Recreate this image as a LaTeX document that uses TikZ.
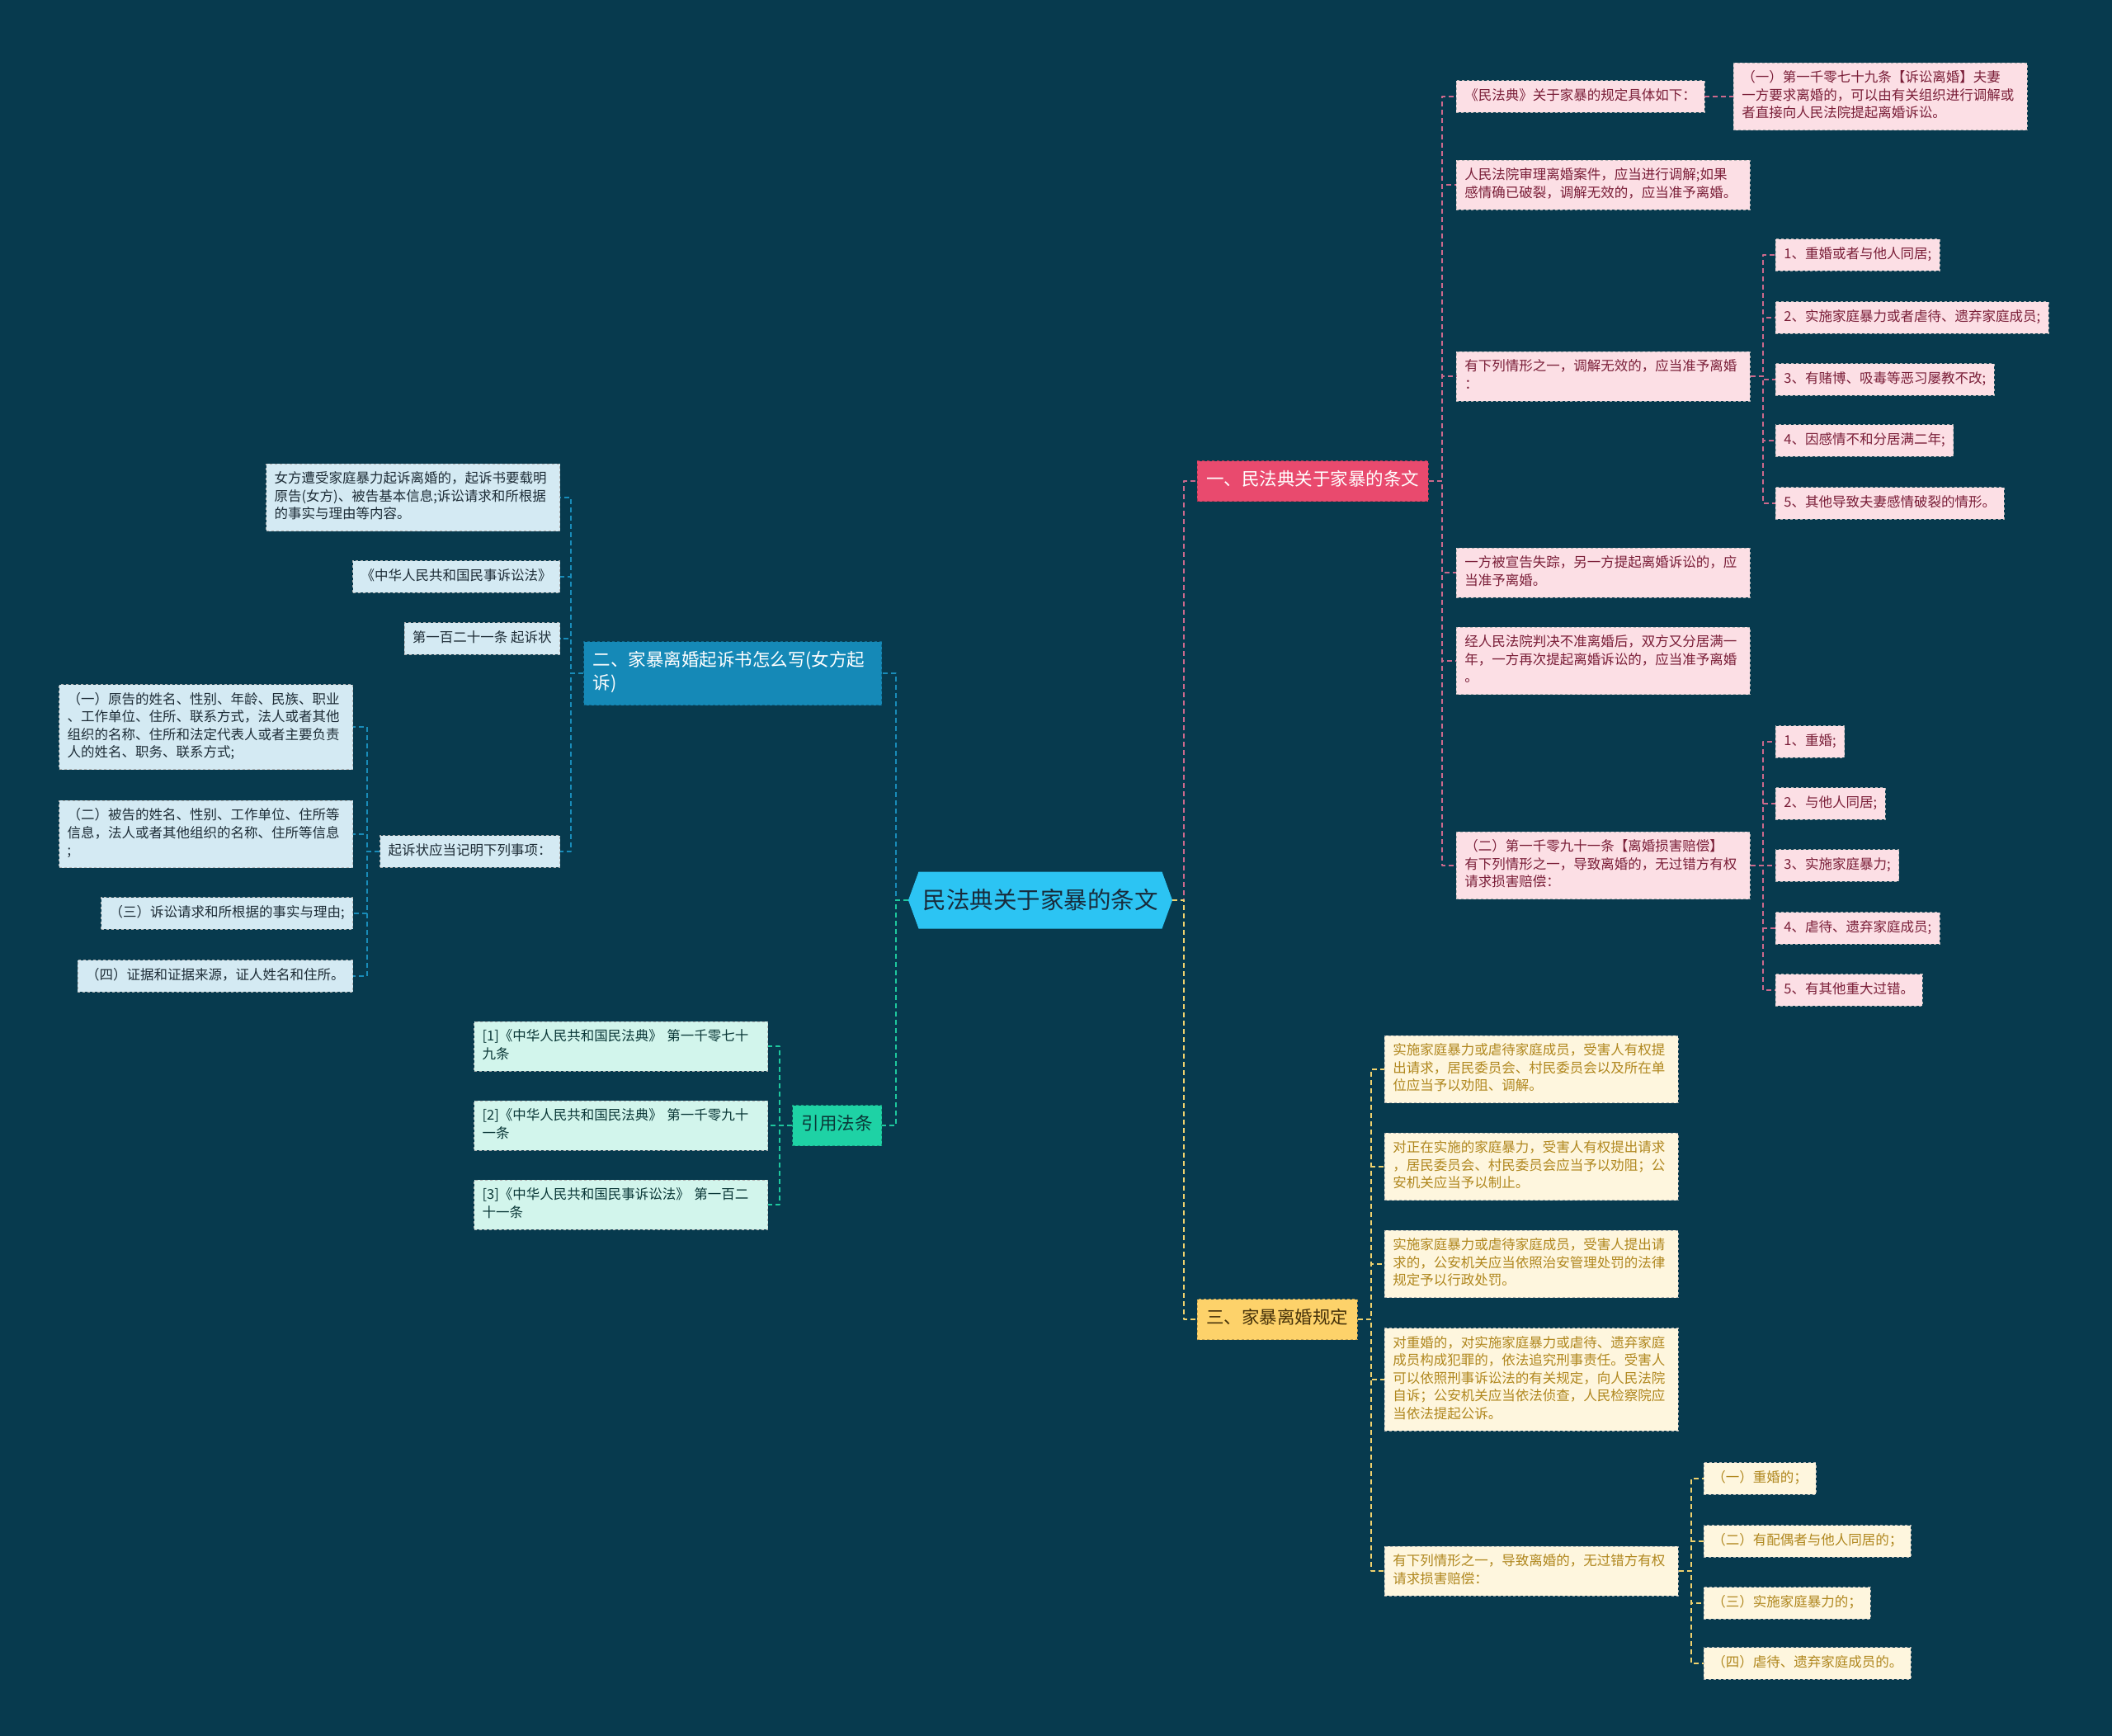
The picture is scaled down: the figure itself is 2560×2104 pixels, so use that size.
\documentclass[tikz,border=0pt]{standalone}
\usepackage{fontspec}
\setmainfont{Noto Sans CJK SC}
\usepackage{tikz}
\usetikzlibrary{shapes.symbols}

\definecolor{bgc}{RGB}{7,58,78}
\definecolor{hubc}{RGB}{44,196,243}
\definecolor{hubt}{RGB}{24,44,60}
\definecolor{redc}{RGB}{233,74,110}
\definecolor{redfill}{RGB}{252,223,229}
\definecolor{redtext}{RGB}{122,30,56}
\definecolor{redline}{RGB}{205,105,140}
\definecolor{bluec}{RGB}{21,137,183}
\definecolor{bluefill}{RGB}{212,234,243}
\definecolor{bluetext}{RGB}{30,45,55}
\definecolor{blueline}{RGB}{25,140,185}
\definecolor{yelc}{RGB}{253,210,106}
\definecolor{yeltext}{RGB}{70,50,10}
\definecolor{yelfill}{RGB}{254,246,222}
\definecolor{yelleaf}{RGB}{176,135,30}
\definecolor{yelline}{RGB}{240,210,110}
\definecolor{grnc}{RGB}{30,210,165}
\definecolor{grntext}{RGB}{10,55,55}
\definecolor{grnfill}{RGB}{210,245,236}
\definecolor{grnline}{RGB}{30,200,158}

\begin{document}
\begin{tikzpicture}[x=1pt, y=-1pt, line join=round,
  hub/.style={shape=signal, signal to=west and east, signal pointer angle=140,
    fill=hubc, text=hubt, font=\fontsize{28.5}{34}\selectfont, inner xsep=5pt, minimum height=69pt},
  topic/.style={dashed, line width=0.8pt, inner xsep=11pt, inner ysep=10.5pt,
    font=\fontsize{21.5}{28}\selectfont, execute at begin node=\strut, execute at end node=\strut},
  leaf/.style={dashed, line width=0.8pt, draw=gray!60, inner xsep=10pt, inner ysep=8.5pt,
    font=\fontsize{16.5}{21.5}\selectfont, execute at begin node=\strut, execute at end node=\strut},
  wide/.style={text width=336pt, align=left},
  redleaf/.style={leaf, fill=redfill, text=redtext},
  blueleaf/.style={leaf, fill=bluefill, text=bluetext},
  yelleaf/.style={leaf, fill=yelfill, text=yelleaf},
  grnleaf/.style={leaf, fill=grnfill, text=grntext},
  redlink/.style={draw=redline, line width=1.6pt, dash pattern=on 6pt off 4pt},
  bluelink/.style={draw=blueline, line width=1.6pt, dash pattern=on 6pt off 4pt},
  yellink/.style={draw=yelline, line width=1.6pt, dash pattern=on 6pt off 4pt},
  grnlink/.style={draw=grnline, line width=1.6pt, dash pattern=on 6pt off 4pt}]

  % background and page size
  \fill[bgc] (0,0) rectangle (2560,2104);
  \useasboundingbox (0,0) rectangle (2560,2104);

  \begin{scope}[yshift=-3pt]
  % central topic
  \node[hub] (root) at (1261,1088) {民法典关于家暴的条文};

  % main branches
  \node[topic, fill=redc, draw=redc!75!black, text=white, anchor=west] (law) at (1451,580) {一、民法典关于家暴的条文};
  \node[topic, fill=yelc, draw=yelc!75!black, text=yeltext, anchor=west] (rule) at (1451,1596) {三、家暴离婚规定};
  \node[topic, fill=bluec, draw=bluec!75!black, text=white, text width=339pt, align=left, anchor=east] (suit) at (1069,813) {二、家暴离婚起诉书怎么写(女方起\\诉)};
  \node[topic, fill=grnc, draw=grnc!75!black, text=grntext, anchor=east] (cite) at (1069,1361) {引用法条};

  % branch one: articles of the civil code
  \node[redleaf, anchor=west] (lawA) at (1765,114) {《民法典》关于家暴的规定具体如下：};
  \node[redleaf, wide, anchor=west] (lawAone) at (2101,114) {（一）第一千零七十九条【诉讼离婚】夫妻\\一方要求离婚的，可以由有关组织进行调解或\\者直接向人民法院提起离婚诉讼。};
  \node[redleaf, wide, anchor=west] (lawB) at (1765,221) {人民法院审理离婚案件，应当进行调解;如果\\感情确已破裂，调解无效的，应当准予离婚。};
  \node[redleaf, wide, anchor=west] (lawC) at (1765,453) {有下列情形之一，调解无效的，应当准予离婚\\：};
  \node[redleaf, anchor=west] (lawCa) at (2152,306) {1、重婚或者与他人同居;};
  \node[redleaf, anchor=west] (lawCb) at (2152,382) {2、实施家庭暴力或者虐待、遗弃家庭成员;};
  \node[redleaf, anchor=west] (lawCc) at (2152,457) {3、有赌博、吸毒等恶习屡教不改;};
  \node[redleaf, anchor=west] (lawCd) at (2152,531) {4、因感情不和分居满二年;};
  \node[redleaf, anchor=west] (lawCe) at (2152,607) {5、其他导致夫妻感情破裂的情形。};
  \node[redleaf, wide, anchor=west] (lawD) at (1765,691) {一方被宣告失踪，另一方提起离婚诉讼的，应\\当准予离婚。};
  \node[redleaf, wide, anchor=west] (lawE) at (1765,798) {经人民法院判决不准离婚后，双方又分居满一\\年，一方再次提起离婚诉讼的，应当准予离婚\\。};
  \node[redleaf, wide, anchor=west] (lawF) at (1765,1046) {（二）第一千零九十一条【离婚损害赔偿】\\有下列情形之一，导致离婚的，无过错方有权\\请求损害赔偿：};
  \node[redleaf, anchor=west] (lawFa) at (2152,896) {1、重婚;};
  \node[redleaf, anchor=west] (lawFb) at (2152,971) {2、与他人同居;};
  \node[redleaf, anchor=west] (lawFc) at (2152,1046) {3、实施家庭暴力;};
  \node[redleaf, anchor=west] (lawFd) at (2152,1122) {4、虐待、遗弃家庭成员;};
  \node[redleaf, anchor=west] (lawFe) at (2152,1197) {5、有其他重大过错。};

  % branch three: rules on domestic violence
  \node[yelleaf, wide, anchor=west] (ruleA) at (1678,1293) {实施家庭暴力或虐待家庭成员，受害人有权提\\出请求，居民委员会、村民委员会以及所在单\\位应当予以劝阻、调解。};
  \node[yelleaf, wide, anchor=west] (ruleB) at (1678,1411) {对正在实施的家庭暴力，受害人有权提出请求\\，居民委员会、村民委员会应当予以劝阻；公\\安机关应当予以制止。};
  \node[yelleaf, wide, anchor=west] (ruleC) at (1678,1529) {实施家庭暴力或虐待家庭成员，受害人提出请\\求的，公安机关应当依照治安管理处罚的法律\\规定予以行政处罚。};
  \node[yelleaf, wide, anchor=west] (ruleD) at (1678,1669) {对重婚的，对实施家庭暴力或虐待、遗弃家庭\\成员构成犯罪的，依法追究刑事责任。受害人\\可以依照刑事诉讼法的有关规定，向人民法院\\自诉；公安机关应当依法侦查，人民检察院应\\当依法提起公诉。};
  \node[yelleaf, wide, anchor=west] (ruleE) at (1678,1901) {有下列情形之一，导致离婚的，无过错方有权\\请求损害赔偿：};
  \node[yelleaf, anchor=west] (ruleEa) at (2065,1789) {（一）重婚的；};
  \node[yelleaf, anchor=west] (ruleEb) at (2065,1865) {（二）有配偶者与他人同居的；};
  \node[yelleaf, anchor=west] (ruleEc) at (2065,1940) {（三）实施家庭暴力的；};
  \node[yelleaf, anchor=west] (ruleEd) at (2065,2013) {（四）虐待、遗弃家庭成员的。};

  % branch two: writing the complaint
  \node[blueleaf, wide, anchor=east] (suitA) at (679,600) {女方遭受家庭暴力起诉离婚的，起诉书要载明\\原告(女方)、被告基本信息;诉讼请求和所根据\\的事实与理由等内容。};
  \node[blueleaf, anchor=east] (suitB) at (679,696) {《中华人民共和国民事诉讼法》};
  \node[blueleaf, anchor=east] (suitC) at (679,771) {第一百二十一条 起诉状};
  \node[blueleaf, anchor=east] (suitD) at (679,1029) {起诉状应当记明下列事项：};
  \node[blueleaf, wide, anchor=east] (suitDa) at (428,878) {（一）原告的姓名、性别、年龄、民族、职业\\、工作单位、住所、联系方式，法人或者其他\\组织的名称、住所和法定代表人或者主要负责\\人的姓名、职务、联系方式;};
  \node[blueleaf, wide, anchor=east] (suitDb) at (428,1008) {（二）被告的姓名、性别、工作单位、住所等\\信息，法人或者其他组织的名称、住所等信息\\;};
  \node[blueleaf, anchor=east] (suitDc) at (428,1104) {（三）诉讼请求和所根据的事实与理由;};
  \node[blueleaf, anchor=east] (suitDd) at (428,1180) {（四）证据和证据来源，证人姓名和住所。};

  % branch four: cited articles
  \node[grnleaf, wide, anchor=east] (citeA) at (931,1265) {[1]《中华人民共和国民法典》 第一千零七十\\九条};
  \node[grnleaf, wide, anchor=east] (citeB) at (931,1361) {[2]《中华人民共和国民法典》 第一千零九十\\一条};
  \node[grnleaf, wide, anchor=east] (citeC) at (931,1457) {[3]《中华人民共和国民事诉讼法》 第一百二\\十一条};

  % connectors from the centre
  \draw[redlink] (root.east) -- ++(14,0) |- (law.west);
  \draw[yellink] (root.east) -- ++(14,0) |- (rule.west);
  \draw[bluelink] (root.west) -- ++(-15,0) |- (suit.east);
  \draw[grnlink] (root.west) -- ++(-15,0) |- (cite.east);

  % connectors of branch one
  \draw[redlink] (law.east) -- ++(16,0) |- (lawA.west);
  \draw[redlink] (law.east) -- ++(16,0) |- (lawB.west);
  \draw[redlink] (law.east) -- ++(16,0) |- (lawC.west);
  \draw[redlink] (law.east) -- ++(16,0) |- (lawD.west);
  \draw[redlink] (law.east) -- ++(16,0) |- (lawE.west);
  \draw[redlink] (law.east) -- ++(16,0) |- (lawF.west);
  \draw[redlink] (lawA.east) -- (lawAone.west |- lawA.east);
  \draw[redlink] (lawC.east) -- ++(15,0) |- (lawCa.west);
  \draw[redlink] (lawC.east) -- ++(15,0) |- (lawCb.west);
  \draw[redlink] (lawC.east) -- ++(15,0) |- (lawCc.west);
  \draw[redlink] (lawC.east) -- ++(15,0) |- (lawCd.west);
  \draw[redlink] (lawC.east) -- ++(15,0) |- (lawCe.west);
  \draw[redlink] (lawF.east) -- ++(15,0) |- (lawFa.west);
  \draw[redlink] (lawF.east) -- ++(15,0) |- (lawFb.west);
  \draw[redlink] (lawF.east) -- ++(15,0) |- (lawFc.west);
  \draw[redlink] (lawF.east) -- ++(15,0) |- (lawFd.west);
  \draw[redlink] (lawF.east) -- ++(15,0) |- (lawFe.west);

  % connectors of branch three
  \draw[yellink] (rule.east) -- ++(16,0) |- (ruleA.west);
  \draw[yellink] (rule.east) -- ++(16,0) |- (ruleB.west);
  \draw[yellink] (rule.east) -- ++(16,0) |- (ruleC.west);
  \draw[yellink] (rule.east) -- ++(16,0) |- (ruleD.west);
  \draw[yellink] (rule.east) -- ++(16,0) |- (ruleE.west);
  \draw[yellink] (ruleE.east) -- ++(15,0) |- (ruleEa.west);
  \draw[yellink] (ruleE.east) -- ++(15,0) |- (ruleEb.west);
  \draw[yellink] (ruleE.east) -- ++(15,0) |- (ruleEc.west);
  \draw[yellink] (ruleE.east) -- ++(15,0) |- (ruleEd.west);

  % connectors of branch two
  \draw[bluelink] (suit.west) -- ++(-15,0) |- (suitA.east);
  \draw[bluelink] (suit.west) -- ++(-15,0) |- (suitB.east);
  \draw[bluelink] (suit.west) -- ++(-15,0) |- (suitC.east);
  \draw[bluelink] (suit.west) -- ++(-15,0) |- (suitD.east);
  \draw[bluelink] (suitD.west) -- ++(-15,0) |- (suitDa.east);
  \draw[bluelink] (suitD.west) -- ++(-15,0) |- (suitDb.east);
  \draw[bluelink] (suitD.west) -- ++(-15,0) |- (suitDc.east);
  \draw[bluelink] (suitD.west) -- ++(-15,0) |- (suitDd.east);

  % connectors of branch four
  \draw[grnlink] (cite.west) -- ++(-15,0) |- (citeA.east);
  \draw[grnlink] (cite.west) -- ++(-15,0) |- (citeB.east);
  \draw[grnlink] (cite.west) -- ++(-15,0) |- (citeC.east);
  \end{scope}
\end{tikzpicture}
\end{document}
